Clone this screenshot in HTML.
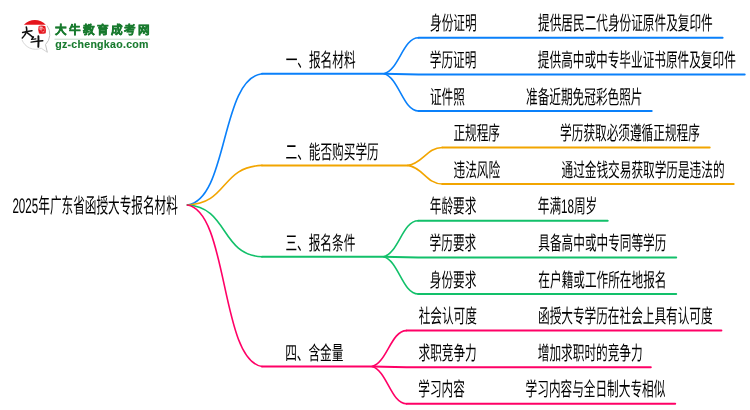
<!DOCTYPE html>
<html lang="zh-CN"><head><meta charset="utf-8"><title>2025年广东省函授大专报名材料</title>
<style>
html,body{margin:0;padding:0;background:#fff;}
body{width:750px;height:410px;overflow:hidden;position:relative;font-family:"Liberation Sans",sans-serif;}
svg{position:absolute;left:0;top:0;}
.t{font-size:19.7px;fill:#000;text-rendering:geometricPrecision;}
.r{font-size:21px;fill:#000;text-rendering:geometricPrecision;}
.m{fill:none;stroke-width:2;stroke-linecap:round;}
.c{stroke-width:1.6;}
</style></head><body>
<svg style="will-change:transform" width="750" height="410" viewBox="0 0 750 410" font-family="Liberation Sans, sans-serif">
<path class="m c" d="M187.4 205 C228.43 199.75 220.22 78.95 262 73.7 M384 73.7 C399.01 70 402.98 37.8 418.5 37.8 M384 73.7 C399.01 77.54 402.98 111 418.5 111" stroke="#0a80fa"/>
<path class="m" d="M262 73.7 L384 73.7 M418.5 37.8 L722.6 37.8 M384 73.7 L418.5 74.4 L744.7 74.4 M418.5 111 L651.7 111" stroke="#0a80fa"/>
<path class="m c" d="M187.4 205 C228.43 203.42 220.22 166.98 262 165.4 M407.8 165.4 C422.81 163.55 426.78 147.45 442.3 147.45 M407.8 165.4 C422.81 167.32 426.78 184.05 442.3 184.05" stroke="#f2a500"/>
<path class="m" d="M262 165.4 L407.8 165.4 M442.3 147.45 L709.7 147.45 M442.3 184.05 L733.7 184.05" stroke="#f2a500"/>
<path class="m c" d="M187.4 205 C228.43 207.07 220.22 254.73 262 256.8 M383.6 256.8 C398.61 253.09 402.58 220.8 418.1 220.8 M383.6 256.8 C398.61 260.63 402.58 294 418.1 294" stroke="#12c06a"/>
<path class="m" d="M262 256.8 L383.6 256.8 M418.1 220.8 L607.7 220.8 M383.6 256.8 L418.1 257.4 L676.2 257.4 M418.1 294 L676.2 294" stroke="#12c06a"/>
<path class="m c" d="M187.4 205 C228.43 211.46 220.22 360.04 262 366.5 M372 366.5 C387.01 362.8 390.98 330.6 406.5 330.6 M372 366.5 C387.01 370.34 390.98 403.8 406.5 403.8" stroke="#ff0066"/>
<path class="m" d="M262 366.5 L372 366.5 M406.5 330.6 L721.4 330.6 M372 366.5 L406.5 367.2 L650.8 367.2 M406.5 403.8 L675.2 403.8" stroke="#ff0066"/>
<text class="t" transform="translate(430.01 30.4) scale(0.5914 1)">身份证明</text>
<text class="t" transform="translate(538.06 30.4) scale(0.5914 1)">提供居民二代身份证原件及复印件</text>
<text class="t" transform="translate(429.8 67) scale(0.5914 1)">学历证明</text>
<text class="t" transform="translate(537.86 67) scale(0.5914 1)">提供高中或中专毕业证书原件及复印件</text>
<text class="t" transform="translate(429.92 103.6) scale(0.5914 1)">证件照</text>
<text class="t" transform="translate(526.04 103.6) scale(0.5914 1)">准备近期免冠彩色照片</text>
<text class="t" transform="translate(285.69 67) scale(0.5914 1)">一、报名材料</text>
<text class="t" transform="translate(453.39 140.05) scale(0.5914 1)">正规程序</text>
<text class="t" transform="translate(560.1 140.05) scale(0.5914 1)">学历获取必须遵循正规程序</text>
<text class="t" transform="translate(453.49 176.65) scale(0.5914 1)">违法风险</text>
<text class="t" transform="translate(561.55 176.65) scale(0.5914 1)">通过金钱交易获取学历是违法的</text>
<text class="t" transform="translate(285.54 158.7) scale(0.5914 1)">二、能否购买学历</text>
<text class="t" transform="translate(429.74 213.4) scale(0.5914 1)">年龄要求</text>
<text class="t" transform="translate(537.74 213.4) scale(0.5914 1)">年满18周岁</text>
<text class="t" transform="translate(429.6 250) scale(0.5914 1)">学历要求</text>
<text class="t" transform="translate(538.33 250) scale(0.5914 1)">具备高中或中专同等学历</text>
<text class="t" transform="translate(429.81 286.6) scale(0.5914 1)">身份要求</text>
<text class="t" transform="translate(538.36 286.6) scale(0.5914 1)">在户籍或工作所在地报名</text>
<text class="t" transform="translate(285.44 250.1) scale(0.5914 1)">三、报名条件</text>
<text class="t" transform="translate(418.69 323.2) scale(0.5914 1)">社会认可度</text>
<text class="t" transform="translate(537.99 323.2) scale(0.5914 1)">函授大专学历在社会上具有认可度</text>
<text class="t" transform="translate(418.5 359.8) scale(0.5914 1)">求职竞争力</text>
<text class="t" transform="translate(537.82 359.8) scale(0.5914 1)">增加求职时的竞争力</text>
<text class="t" transform="translate(418.3 396.4) scale(0.5914 1)">学习内容</text>
<text class="t" transform="translate(525.6 396.4) scale(0.5914 1)">学习内容与全日制大专相似</text>
<text class="t" transform="translate(285.17 359.8) scale(0.5914 1)">四、含金量</text>
<text class="r" transform="translate(12.4 212.8) scale(0.5538 1)">2025年广东省函授大专报名材料</text>
</svg>
<svg class="logo" width="160" height="60" viewBox="0 0 160 60" style="position:absolute;left:0;top:0;will-change:transform">
 <path d="M21.9 39.6 A14.6 14.6 0 0 0 41.2 48.2 L47.3 52.3" fill="none" stroke="#d2d2d2" stroke-width="0.9"/>
 <path d="M47.3 52.3 L45.5 44.6 A14.6 14.6 0 0 0 47 25.6" fill="none" stroke="#c2c2c2" stroke-width="1"/>
 <path d="M23.9 24.8 A14.7 14.7 0 0 1 45.8 24.8 Z" fill="#e5141c"/>
 <path d="M38.7 26 Q42 25 45.3 26.3 Q46.3 29.8 45.7 33.2 Q42 34.4 39 33.4 Q37.7 29.6 38.7 26Z" fill="#e5141c"/>
 <path d="M39.4 26.4 Q41.5 26 43 27 L42.5 29.5 Q40.5 30.5 39.2 29.6Z" fill="#f08a8e"/>
 <path d="M40 27.4 l2.2 0.2 M40.3 29.8 l1.5 1.3 M43.6 28 l0.7 1.7 M42.3 32 l2 -0.3 M44.4 30.6 l-0.9 0.9" stroke="#fbd0d2" stroke-width="0.6" fill="none"/>
 <g fill="none" stroke="#111" stroke-linecap="round" stroke-linejoin="round">
  <path d="M22.6 32.4 Q27 31.3 32 30.7" stroke-width="1.5"/>
  <path d="M26.3 27.1 Q27.1 29.5 26.6 31.6 Q25.3 35.3 22.3 38" stroke-width="1.6"/>
  <path d="M27.1 32.7 Q30 35 33 37.3" stroke-width="1.5"/>
  <path d="M32.3 37.1 L33.6 36.9 L31.5 39.5 L35.9 38.9" stroke-width="1.2"/>
  <path d="M31.1 42.1 Q37 41.2 42.8 40.8" stroke-width="1.4"/>
  <path d="M38.4 36.3 Q38.7 41.5 38.3 46.9" stroke-width="1.9"/>
 </g>
 <text x="55.2" y="34.3" font-size="11.6" font-weight="bold" fill="#187a2e" stroke="#187a2e" stroke-width="0.5" textLength="95" lengthAdjust="spacing">大牛教育成考网</text>
 <rect x="54.5" y="38.7" width="95.5" height="1" fill="#c4dbc8"/>
 <text x="55.2" y="47.8" font-size="10.6" font-weight="bold" fill="#187a2e" stroke="#187a2e" stroke-width="0.12" textLength="93.3" lengthAdjust="spacing">gz-chengkao.com</text>
</svg>
</body></html>
